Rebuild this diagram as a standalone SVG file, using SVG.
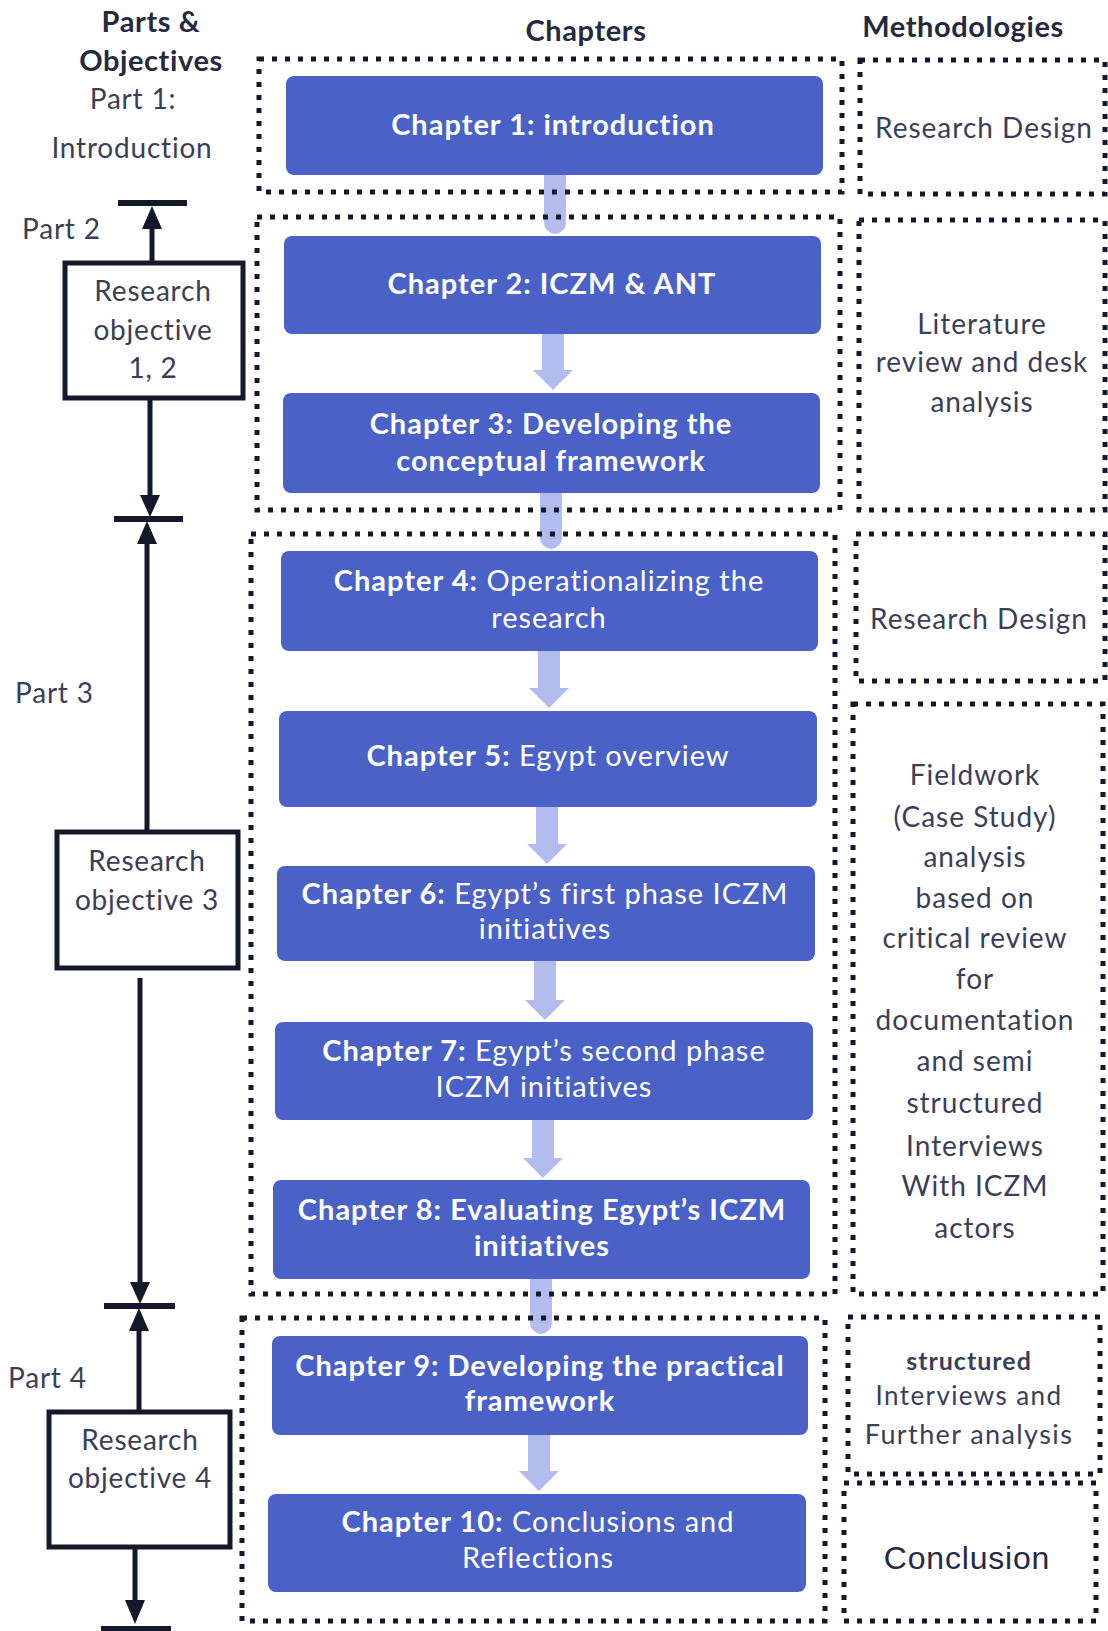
<svg xmlns="http://www.w3.org/2000/svg" width="1108" height="1631" viewBox="0 0 1108 1631">
  <style>
    .hdr { font-family: Lato, "Liberation Sans", sans-serif; font-weight: 700; font-size: 29px; letter-spacing: 0.6px; fill: #262a3e; text-anchor: middle; }
    .lbl { font-family: Lato, "Liberation Sans", sans-serif; font-size: 28px; letter-spacing: 0.8px; fill: #3a3e56; }
    .mid { text-anchor: middle; }
    .meth { font-family: Lato, "Liberation Sans", sans-serif; font-size: 28px; letter-spacing: 1px; fill: #3a3e58; text-anchor: middle; }
    .chap { fill: #4a62c8; }
    .ct { font-family: Lato, "Liberation Sans", sans-serif; font-size: 29px; letter-spacing: 1px; fill: #ffffff; text-anchor: middle; }
    .b { font-weight: 700; }
    .dot { fill: none; stroke: #15182a; stroke-width: 5; stroke-dasharray: 5 8; }
    .flow { fill: #b3bcef; }
    .axis { stroke: #15182a; stroke-width: 5; fill: none; }
    .bar { stroke: #15182a; stroke-width: 6; }
    .head { fill: #15182a; }
    .obj { fill: #ffffff; stroke: #15182a; stroke-width: 5; }
  </style>

  <!-- column headings -->
  <g id="headings">
    <text class="hdr" x="151" y="32">Parts &amp;</text>
    <text class="hdr" x="151" y="71">Objectives</text>
    <text class="hdr" x="586" y="41">Chapters</text>
    <text class="hdr" x="963" y="37">Methodologies</text>
  </g>

  <!-- chapter flow arrows (drawn beneath frames and boxes) -->
  <g id="connectors">
    <!-- shafts crossing two frames: the head sits under the next box -->
    <path class="flow" d="M544,172 H566 V222 Q566,232 555,234 Q544,232 544,222 Z"/>
    <path class="flow" d="M542,332 H564 V370 H573 L553,390 L533,370 H542 Z"/>
    <path class="flow" d="M540,490 H562 V537 Q562,547 551,549 Q540,547 540,537 Z"/>
    <path class="flow" d="M538,649 H560 V688 H569 L549,708 L529,688 H538 Z"/>
    <path class="flow" d="M536,805 H558 V844 H567 L547,864 L527,844 H536 Z"/>
    <path class="flow" d="M534,959 H556 V1000 H565 L545,1020 L525,1000 H534 Z"/>
    <path class="flow" d="M532,1118 H554 V1158 H563 L543,1178 L523,1158 H532 Z"/>
    <path class="flow" d="M530,1277 H552 V1322 Q552,1332 541,1334 Q530,1332 530,1322 Z"/>
    <path class="flow" d="M528,1433 H550 V1471 H559 L539,1491 L519,1471 H528 Z"/>

    <!-- parts / objectives axis -->
    <line class="bar" x1="118" y1="203" x2="187" y2="203"/>
    <polygon class="head" points="152,206 142,229 162,229"/>
    <line class="axis" x1="152" y1="228" x2="152" y2="263"/>
    <line class="axis" x1="150" y1="398" x2="150" y2="498"/>
    <polygon class="head" points="150,517 140,495 160,495"/>
    <line class="bar" x1="114" y1="519" x2="183" y2="519"/>
    <polygon class="head" points="147,521 137,544 157,544"/>
    <line class="axis" x1="147" y1="543" x2="147" y2="832"/>
    <line class="axis" x1="140" y1="978" x2="140" y2="1284"/>
    <polygon class="head" points="140,1304 130,1282 150,1282"/>
    <line class="bar" x1="104" y1="1306" x2="175" y2="1306"/>
    <polygon class="head" points="139,1308 129,1331 149,1331"/>
    <line class="axis" x1="139" y1="1330" x2="139" y2="1412"/>
    <line class="axis" x1="135" y1="1547" x2="135" y2="1602"/>
    <polygon class="head" points="135,1624 125,1600 145,1600"/>
    <line class="bar" x1="101" y1="1629" x2="171" y2="1629"/>
  </g>

  <!-- dotted frames grouping chapters -->
  <g id="chapter-frames">
    <rect class="dot" x="259" y="59" width="583" height="133"/>
    <rect class="dot" x="257" y="217" width="583" height="293"/>
    <rect class="dot" x="251" y="534" width="584" height="760"/>
    <rect class="dot" x="242" y="1318" width="583" height="303"/>
  </g>

  <!-- part labels -->
  <g id="part-labels">
    <text class="lbl mid" x="133" y="109">Part 1:</text>
    <text class="lbl mid" x="132" y="158">Introduction</text>
    <text class="lbl" x="22" y="239">Part 2</text>
    <text class="lbl" x="15" y="703">Part 3</text>
    <text class="lbl" x="8" y="1388">Part 4</text>
  </g>

  <g id="objective-1-2">
    <rect class="obj" x="65" y="263" width="178" height="135"/>
    <text class="lbl mid" x="153" y="301">Research</text>
    <text class="lbl mid" x="153" y="340">objective</text>
    <text class="lbl mid" x="153" y="378">1, 2</text>
  </g>
  <g id="objective-3">
    <rect class="obj" x="57" y="832" width="181" height="136"/>
    <text class="lbl mid" x="147" y="871">Research</text>
    <text class="lbl mid" x="147" y="910">objective 3</text>
  </g>
  <g id="objective-4">
    <rect class="obj" x="49" y="1412" width="181" height="135"/>
    <text class="lbl mid" x="140" y="1450">Research</text>
    <text class="lbl mid" x="140" y="1488">objective 4</text>
  </g>

  <!-- chapters -->
  <g id="chapter-1">
    <rect class="chap" x="286" y="76" width="537" height="99" rx="8"/>
    <text class="ct b" x="553" y="135">Chapter 1: introduction</text>
  </g>
  <g id="chapter-2">
    <rect class="chap" x="284" y="236" width="537" height="98" rx="8"/>
    <text class="ct b" x="552" y="294">Chapter 2: ICZM &amp; ANT</text>
  </g>
  <g id="chapter-3">
    <rect class="chap" x="283" y="393" width="537" height="100" rx="8"/>
    <text class="ct b" x="551" y="434">Chapter 3: Developing the</text>
    <text class="ct b" x="551" y="471">conceptual framework</text>
  </g>
  <g id="chapter-4">
    <rect class="chap" x="281" y="551" width="537" height="100" rx="8"/>
    <text class="ct" x="549" y="591"><tspan class="b">Chapter 4:</tspan>  Operationalizing the</text>
    <text class="ct" x="549" y="628">research</text>
  </g>
  <g id="chapter-5">
    <rect class="chap" x="279" y="711" width="538" height="96" rx="8"/>
    <text class="ct" x="548" y="766"><tspan class="b">Chapter 5:</tspan>  Egypt overview</text>
  </g>
  <g id="chapter-6">
    <rect class="chap" x="277" y="866" width="538" height="95" rx="8"/>
    <text class="ct" x="545" y="904"><tspan class="b">Chapter 6:</tspan> Egypt’s first phase ICZM</text>
    <text class="ct" x="545" y="939">initiatives</text>
  </g>
  <g id="chapter-7">
    <rect class="chap" x="275" y="1022" width="538" height="98" rx="8"/>
    <text class="ct" x="544" y="1061"><tspan class="b">Chapter 7:</tspan> Egypt’s second phase</text>
    <text class="ct" x="544" y="1097">ICZM initiatives</text>
  </g>
  <g id="chapter-8">
    <rect class="chap" x="273" y="1180" width="537" height="99" rx="8"/>
    <text class="ct b" x="542" y="1220">Chapter 8: Evaluating  Egypt’s ICZM</text>
    <text class="ct b" x="542" y="1256">initiatives</text>
  </g>
  <g id="chapter-9">
    <rect class="chap" x="272" y="1336" width="536" height="99" rx="8"/>
    <text class="ct b" x="540" y="1376">Chapter 9: Developing the practical</text>
    <text class="ct b" x="540" y="1411">framework</text>
  </g>
  <g id="chapter-10">
    <rect class="chap" x="268" y="1494" width="538" height="98" rx="8"/>
    <text class="ct" x="538" y="1532"><tspan class="b">Chapter 10:</tspan> Conclusions and</text>
    <text class="ct" x="538" y="1568">Reflections</text>
  </g>

  <!-- methodologies -->
  <g id="method-research-design-1">
    <rect class="dot" x="860" y="60" width="245" height="134"/>
    <text class="meth" x="984" y="138">Research Design</text>
  </g>
  <g id="method-literature">
    <rect class="dot" x="859" y="220" width="246" height="290"/>
    <text class="meth" x="982" y="334">Literature</text>
    <text class="meth" x="982" y="372">review and desk</text>
    <text class="meth" x="982" y="412">analysis</text>
  </g>
  <g id="method-research-design-2">
    <rect class="dot" x="856" y="534" width="249" height="147"/>
    <text class="meth" x="979" y="629">Research Design</text>
  </g>
  <g id="method-fieldwork">
    <rect class="dot" x="853" y="704" width="250" height="590"/>
    <text class="meth" x="975" y="785">Fieldwork</text>
    <text class="meth" x="975" y="827">(Case Study)</text>
    <text class="meth" x="975" y="867">analysis</text>
    <text class="meth" x="975" y="908">based on</text>
    <text class="meth" x="975" y="948">critical review</text>
    <text class="meth" x="975" y="989">for</text>
    <text class="meth" x="975" y="1030">documentation</text>
    <text class="meth" x="975" y="1071">and semi</text>
    <text class="meth" x="975" y="1113">structured</text>
    <text class="meth" x="975" y="1156">Interviews</text>
    <text class="meth" x="975" y="1196">With ICZM</text>
    <text class="meth" x="975" y="1238">actors</text>
  </g>
  <g id="method-interviews">
    <rect class="dot" x="848" y="1317" width="252" height="157"/>
    <text class="meth b" x="969" y="1370" style="font-size:25px;letter-spacing:1px">structured</text>
    <text class="meth" x="969" y="1405" style="font-size:26px;letter-spacing:1.4px">Interviews and</text>
    <text class="meth" x="969" y="1444" style="font-size:27px;letter-spacing:1.4px">Further analysis</text>
  </g>
  <g id="method-conclusion">
    <rect class="dot" x="844" y="1483" width="252" height="138"/>
    <text x="967" y="1569" text-anchor="middle" style="font-family:'Liberation Sans',Arial,sans-serif;font-size:32px;letter-spacing:0.8px;fill:#252a45">Conclusion</text>
  </g>
</svg>
